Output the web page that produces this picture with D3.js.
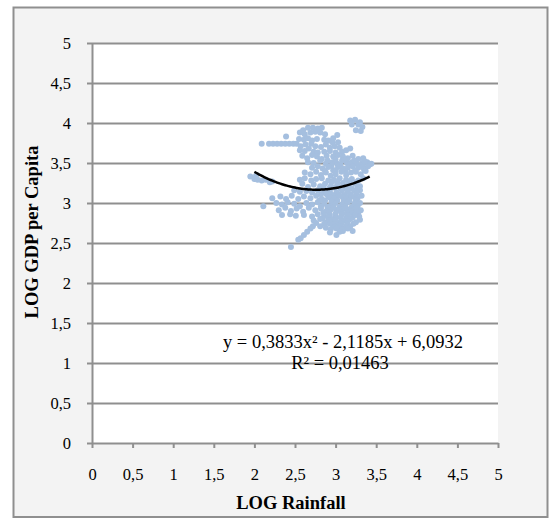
<!DOCTYPE html>
<meta charset="utf-8">
<style>
body { margin: 0; background: #fff; }
text { font-family: "Liberation Serif", "Times New Roman", serif; fill: #000; }
.axis path, .axis line { stroke: #8f8f8f; stroke-width: 2px; fill: none; }
.axis text { font-size: 16.5px; font-family: "Liberation Serif", serif; }
.grid line { stroke: #8f8f8f; stroke-width: 2px; }
.grid path { display: none; }
.title { font-size: 18.5px; font-weight: bold; text-anchor: middle; }
.eq { font-size: 18.5px; text-anchor: middle; }
</style>
<body>
<script src="https://d3js.org/d3.v7.min.js"></script>
<script>

// tick values
var xTicks = [0, 0.5, 1, 1.5, 2, 2.5, 3, 3.5, 4, 4.5, 5];
var yTicks = [0, 0.5, 1, 1.5, 2, 2.5, 3, 3.5, 4, 4.5, 5];

// trend line: y = a x^2 + b x + c, drawn over the range of the data
var trendCoef = [0.3833, -2.1185, 6.0932];
var trendRange = [2.0, 3.43];
var eqLines = ["y = 0,3833x\u00B2 - 2,1185x + 6,0932", "R\u00B2 = 0,01463"];

// [LOG Rainfall, LOG GDP per Capita]
var points = [
  [3.18,4.03],[3.24,4.04],[3.30,4.01],[3.20,3.98],[3.28,3.98],[3.33,3.95],[3.25,3.91],[3.31,3.90],
  [2.60,3.91],[2.66,3.94],[2.72,3.94],[2.78,3.93],[2.83,3.94],
  [2.56,3.88],[2.62,3.86],[2.69,3.88],[2.75,3.89],[2.81,3.88],[2.87,3.86],[2.97,3.81],[3.02,3.85],
  [2.39,3.83],
  [2.55,3.80],[2.61,3.79],[2.66,3.81],[2.71,3.78],[2.77,3.80],[2.86,3.79],[2.91,3.78],[2.96,3.76],[3.03,3.76],
  [2.09,3.74],[2.18,3.74],[2.23,3.74],[2.28,3.74],[2.33,3.74],[2.38,3.74],[2.43,3.74],[2.48,3.74],
  [2.52,3.74],[2.57,3.71],[2.63,3.73],[2.70,3.74],[2.75,3.71],[2.82,3.70],[2.88,3.73],[2.93,3.69],[2.99,3.71],[3.05,3.69],
  [2.56,3.66],[2.62,3.65],[2.67,3.68],[2.73,3.64],[2.78,3.63],[2.86,3.64],[2.93,3.65],[3.00,3.63],[3.08,3.64],[3.13,3.66],[3.18,3.68],
  [2.59,3.59],[2.65,3.56],[2.71,3.60],[2.77,3.58],[2.83,3.55],[2.89,3.59],[2.97,3.58],[3.03,3.60],[3.09,3.58],[3.15,3.56],[3.21,3.59],[3.28,3.55],[3.34,3.56],
  [2.66,3.51],[2.73,3.50],[2.81,3.53],[2.88,3.49],[2.96,3.51],[3.02,3.49],[3.08,3.53],[3.14,3.50],[3.20,3.51],[3.26,3.49],[3.33,3.50],[3.39,3.51],[3.44,3.49],
  [2.90,3.53],[3.00,3.54],[3.11,3.54],[3.23,3.53],[3.36,3.52],[2.95,3.47],[3.06,3.48],[3.18,3.48],[3.31,3.47],[3.42,3.48],
  [2.71,3.44],[2.78,3.46],[2.84,3.43],[2.91,3.45],[2.97,3.41],[3.03,3.45],[3.09,3.43],[3.15,3.44],[3.21,3.46],[3.28,3.44],[3.34,3.45],[3.40,3.46],
  [2.87,3.40],[3.00,3.41],[3.12,3.40],[3.24,3.41],[3.35,3.42],
  [2.62,3.38],[2.69,3.36],[2.76,3.39],[2.82,3.35],[2.88,3.38],[2.94,3.34],[3.00,3.36],[3.07,3.39],[3.13,3.35],[3.19,3.38],[3.25,3.39],[3.31,3.36],[3.37,3.40],
  [1.95,3.33],[2.00,3.30],[2.04,3.29],[2.09,3.28],[2.14,3.29],[2.19,3.26],[2.02,3.34],[2.22,3.27],
  [2.56,3.29],[2.62,3.31],[2.70,3.28],[2.76,3.30],[2.83,3.31],[2.91,3.28],[2.98,3.29],[3.05,3.31],[3.13,3.29],[3.20,3.30],[3.28,3.28],[3.34,3.31],
  [2.95,3.26],[3.02,3.26],[3.09,3.25],[3.17,3.26],[3.25,3.26],
  [2.59,3.24],[2.66,3.20],[2.73,3.23],[2.81,3.21],[2.87,3.24],[2.94,3.21],[3.02,3.23],[3.09,3.20],[3.16,3.23],[3.24,3.24],[3.30,3.21],
  [2.85,3.19],[2.92,3.18],[2.99,3.19],[3.06,3.18],[3.13,3.19],[3.20,3.18],[3.27,3.19],
  [2.49,3.16],[2.56,3.14],[2.64,3.15],[2.71,3.13],[2.78,3.16],[2.86,3.14],[2.93,3.15],[3.01,3.13],[3.08,3.16],[3.15,3.14],[3.23,3.15],[3.30,3.16],
  [2.82,3.11],[2.89,3.11],[2.96,3.10],[3.04,3.11],[3.11,3.10],[3.18,3.11],[3.26,3.12],
  [2.93,3.07],[3.01,3.07],[3.09,3.07],[3.16,3.07],[3.24,3.07],
  [2.22,3.06],[2.32,3.08],[2.39,3.05],[2.46,3.09],[2.54,3.05],[2.61,3.08],[2.69,3.06],[2.76,3.09],[2.83,3.05],[2.91,3.08],[2.98,3.06],[3.05,3.09],[3.13,3.05],[3.20,3.08],[3.27,3.06],[3.32,3.09],
  [2.80,3.03],[2.87,3.03],[2.95,3.02],[3.02,3.03],[3.10,3.02],[3.17,3.03],[3.25,3.03],
  [2.11,2.96],[2.27,3.00],[2.34,2.98],[2.41,3.01],[2.49,2.99],[2.56,2.96],[2.64,3.00],[2.71,2.98],[2.78,3.01],[2.86,2.99],[2.93,2.96],[3.00,3.00],[3.08,2.98],[3.15,3.01],[3.23,2.99],[3.30,3.00],
  [2.82,2.96],[2.90,2.95],[2.97,2.97],[3.05,2.95],[3.12,2.96],[3.20,2.95],[3.27,2.96],
  [2.94,2.92],[3.01,2.92],[3.08,2.92],[3.16,2.92],[3.23,2.92],
  [2.30,2.91],[2.38,2.94],[2.45,2.90],[2.52,2.93],[2.60,2.89],[2.67,2.94],[2.75,2.91],[2.82,2.93],[2.89,2.90],[2.97,2.94],[3.04,2.91],[3.12,2.93],[3.19,2.90],[3.26,2.94],[3.31,2.91],
  [2.85,2.88],[2.92,2.88],[3.00,2.87],[3.07,2.88],[3.14,2.88],[3.21,2.87],[3.28,2.88],
  [2.34,2.85],[2.44,2.86],[2.51,2.84],[2.61,2.85],[2.71,2.83],[2.78,2.86],[2.86,2.84],[2.93,2.85],[3.00,2.83],[3.08,2.86],[3.15,2.84],[3.23,2.85],[3.29,2.83],
  [2.84,2.81],[2.91,2.82],[2.99,2.81],[3.06,2.82],[3.13,2.81],[3.21,2.82],
  [2.73,2.78],[2.81,2.80],[2.88,2.76],[2.96,2.79],[3.03,2.75],[3.10,2.78],[3.18,2.80],[3.25,2.76],[3.30,2.79],[3.24,2.85],
  [2.92,2.78],[3.00,2.78],[3.07,2.77],[3.15,2.77],
  [2.86,2.74],[2.93,2.74],[3.00,2.73],[3.07,2.74],[3.14,2.73],[3.22,2.74],
  [2.81,2.71],[2.88,2.69],[2.96,2.73],[3.03,2.70],[3.10,2.68],[3.18,2.71],[3.21,2.65],[3.09,2.65],
  [2.99,2.70],[3.06,2.71],[3.13,2.70],
  [2.94,2.67],[3.01,2.68],[3.08,2.67],[3.15,2.68],
  [2.93,2.63],[3.01,2.60],[3.05,2.64],
  [2.76,2.75],[2.72,2.71],[2.69,2.68],[2.65,2.64],[2.61,2.60],[2.57,2.56],[2.54,2.54],[2.45,2.45]
];

var W = 550, H = 518;
var svg = d3.select("body").append("svg").attr("width", W).attr("height", H);

// chart frame
svg.append("rect").attr("x", 13.5).attr("y", 7.5).attr("width", 534).attr("height", 509.5)
  .attr("fill", "#f3f3f3").attr("stroke", "#8f8f8f").attr("stroke-width", 2);

var x = d3.scaleLinear().domain([0, 5]).range([92, 498]);
var y = d3.scaleLinear().domain([0, 5]).range([443, 43]);

// plot area
svg.append("rect").attr("x", x(0)).attr("y", y(5))
  .attr("width", x(5) - x(0)).attr("height", y(0) - y(5)).attr("fill", "#fff");

svg.append("g").attr("class", "grid")
  .attr("transform", "translate(" + x(0) + ",0)")
  .call(d3.axisLeft(y).tickValues(yTicks.slice(1)).tickSize(-(x(5) - x(0))).tickFormat(""));

var fmt = d => String(d).replace(".", ",");

svg.append("g").attr("class", "axis")
  .attr("transform", "translate(" + x(0) + ",0)")
  .call(d3.axisLeft(y).tickValues(yTicks).tickSize(5).tickSizeOuter(0).tickPadding(16).tickFormat(fmt));

svg.append("g").attr("class", "axis")
  .attr("transform", "translate(0," + y(0) + ")")
  .call(d3.axisBottom(x).tickValues(xTicks).tickSize(5).tickSizeOuter(0).tickPadding(20).tickFormat(fmt));

// points
svg.append("g").selectAll("circle").data(points).join("circle")
  .attr("cx", d => x(d[0])).attr("cy", d => y(d[1])).attr("r", 3)
  .attr("fill", "#a5bfdf");

// polynomial trend line
var trend = d3.range(trendRange[0], trendRange[1] + 0.001, 0.02).map(function(v){
  return [v, trendCoef[0] * v * v + trendCoef[1] * v + trendCoef[2]];
});
svg.append("path").datum(trend)
  .attr("d", d3.line().x(d => x(d[0])).y(d => y(d[1])).curve(d3.curveBasis))
  .attr("fill", "none").attr("stroke", "#000").attr("stroke-width", 2.5);

svg.append("text").attr("class", "eq").attr("x", 343).attr("y", 348).text(eqLines[0]);
svg.append("text").attr("class", "eq").attr("x", 340).attr("y", 369).text(eqLines[1]);

// axis titles
svg.append("text").attr("class", "title").attr("x", 291).attr("y", 509).text("LOG Rainfall");
svg.append("text").attr("class", "title")
  .attr("transform", "translate(38,232) rotate(-90)").text("LOG GDP per Capita");

</script>
</body>
